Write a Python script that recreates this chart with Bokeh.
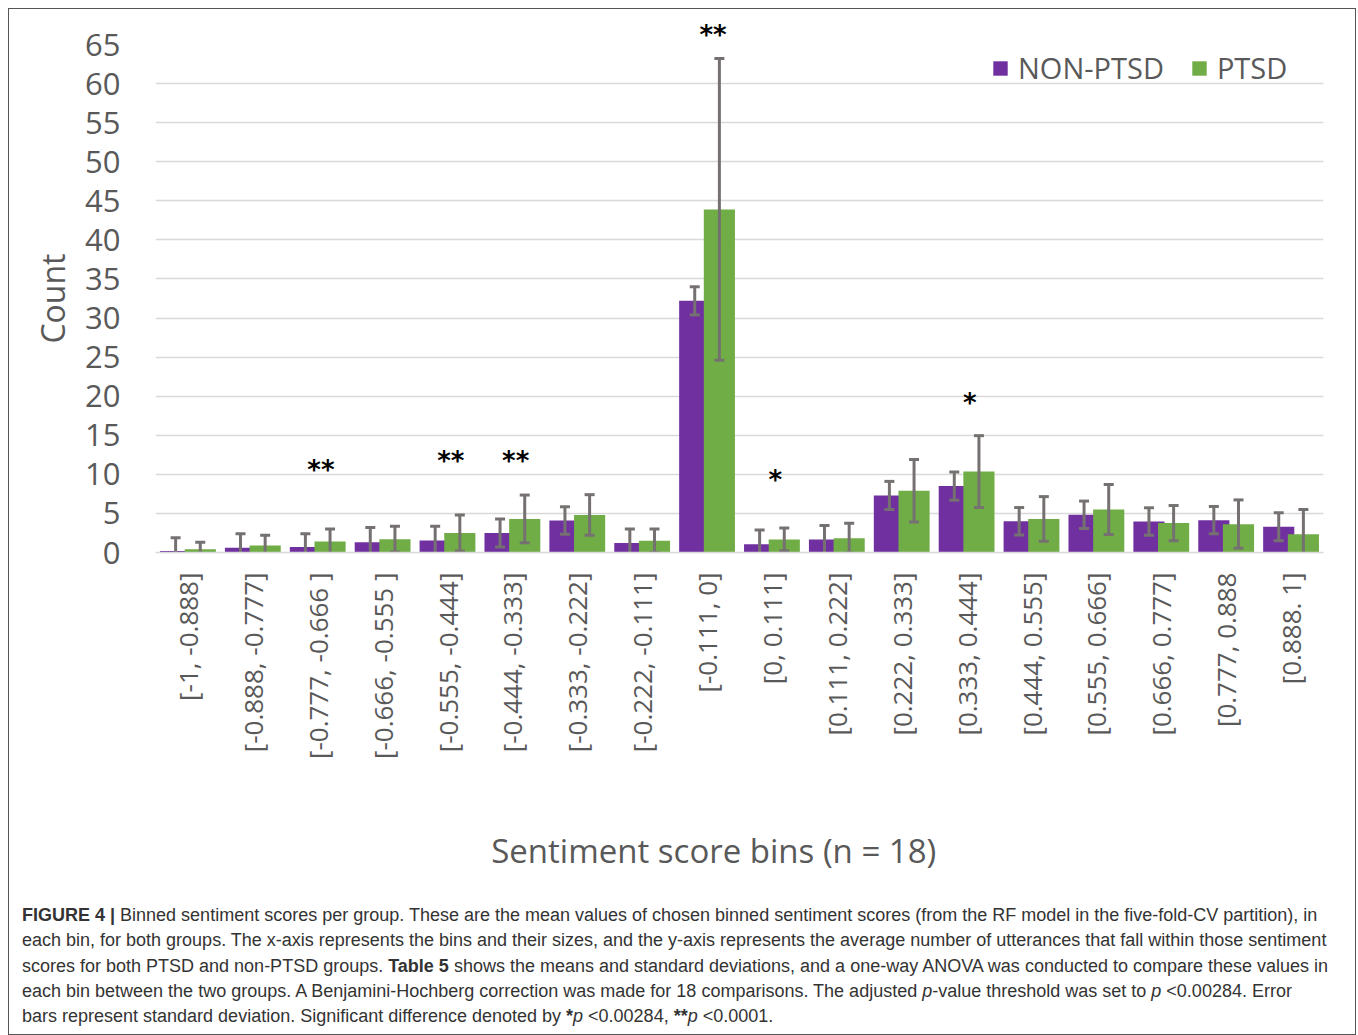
import math
from bokeh.plotting import figure
from bokeh.models import (ColumnDataSource, FactorRange, Range1d, FixedTicker,
                          Legend, LegendItem, Div)
from bokeh.core.properties import value
from bokeh.transform import dodge
from bokeh.layouts import column
from bokeh.embed import file_html
from bokeh.resources import INLINE

# ---------------- data ----------------
bins = ["[-1, -0.888]", "[-0.888, -0.777]", "[-0.777, -0.666 ]", "[-0.666, -0.555 ]",
        "[-0.555, -0.444]", "[-0.444, -0.333]", "[-0.333, -0.222]", "[-0.222, -0.111]",
        "[-0.111, 0]", "[0, 0.111]", "[0.111, 0.222]", "[0.222, 0.333]",
        "[0.333, 0.444]", "[0.444, 0.555]", "[0.555, 0.666]", "[0.666, 0.777]",
        "[0.777, 0.888", "[0.888. 1]"]
non_ptsd = [0.2, 0.6, 0.7, 1.3, 1.55, 2.5, 4.1, 1.2, 32.2, 1.07, 1.67, 7.3, 8.5, 4.0, 4.83, 3.97, 4.14, 3.3]
non_ptsd_sd = [1.7, 1.8, 1.7, 1.9, 1.8, 1.8, 1.75, 1.8, 1.8, 1.8, 1.8, 1.8, 1.8, 1.75, 1.75, 1.75, 1.75, 1.8]
ptsd = [0.4, 0.9, 1.4, 1.7, 2.5, 4.3, 4.8, 1.5, 43.9, 1.67, 1.83, 7.9, 10.35, 4.3, 5.5, 3.76, 3.63, 2.35]
ptsd_sd = [0.9, 1.3, 1.6, 1.65, 2.3, 3.05, 2.6, 1.5, 19.3, 1.45, 1.9, 4.0, 4.6, 2.85, 3.2, 2.25, 3.1, 3.15]

# significance markers inside the plot area
sig_bins = ["[-0.777, -0.666 ]", "[-0.555, -0.444]", "[-0.444, -0.333]", "[0, 0.111]", "[0.333, 0.444]"]
sig_marks = ["**", "**", "**", "*", "*"]
sig_y = [10.5, 11.65, 11.65, 9.3, 19.1]
# marker above the plot area (bin "[-0.111, 0]")
top_mark = "**"

y_ticks = list(range(0, 70, 5))

PURPLE = "#7030A0"
GREEN = "#70AD47"
ERR = "#767171"
TXT = "#595959"
FONT = "Open Sans"

src = ColumnDataSource(dict(
    bin=bins, np=non_ptsd, pt=ptsd,
    np_lo=[m - s for m, s in zip(non_ptsd, non_ptsd_sd)],
    np_hi=[m + s for m, s in zip(non_ptsd, non_ptsd_sd)],
    pt_lo=[m - s for m, s in zip(ptsd, ptsd_sd)],
    pt_hi=[m + s for m, s in zip(ptsd, ptsd_sd)],
))
sig_src = ColumnDataSource(dict(bin=sig_bins, mark=sig_marks, y=sig_y))

p = figure(x_range=FactorRange(*bins), y_range=Range1d(0, 65),
           width=1346, height=886, output_backend="svg", toolbar_location=None,
           min_border_left=146, min_border_right=32, min_border_top=35, min_border_bottom=343)
p.outline_line_color = None
p.background_fill_color = "white"
p.border_fill_color = "white"

# the "**" above the tallest bar, drawn as the plot's title
p.title.text = top_mark
p.title.align = "left"
p.title.offset = 544
p.title.standoff = -10
p.title.text_font = "DejaVu Sans"
p.title.text_font_style = "bold"
p.title.text_font_size = "26px"
p.title.text_color = "black"

OFF = 0.19
BW = 0.48
r_np = p.vbar(x=dodge("bin", -OFF, range=p.x_range), top="np", width=BW, source=src,
              fill_color=PURPLE, line_color=None)
r_pt = p.vbar(x=dodge("bin", OFF, range=p.x_range), top="pt", width=BW, source=src,
              fill_color=GREEN, line_color=None)

for off, lo, hi in [(-OFF, "np_lo", "np_hi"), (OFF, "pt_lo", "pt_hi")]:
    xs = dodge("bin", off, range=p.x_range)
    p.segment(x0=xs, y0=lo, x1=xs, y1=hi, source=src, line_color=ERR, line_width=3)
    for col in (lo, hi):
        p.rect(x=xs, y=col, width=10, height=3, width_units="screen", height_units="screen",
               source=src, fill_color=ERR, line_color=None)

p.text(x=dodge("bin", 0.05, range=p.x_range), y="y", text="mark", source=sig_src,
       text_align="center", text_baseline="middle", text_font_size="26px", text_color="black",
       text_font=value("DejaVu Sans"), text_font_style="bold")

legend = Legend(items=[LegendItem(label="NON-PTSD", renderers=[r_np]),
                       LegendItem(label="PTSD", renderers=[r_pt])],
                orientation="horizontal", location=(836, 465), padding=0, margin=0,
                glyph_width=18, glyph_height=18, label_standoff=9, spacing=26,
                label_text_font=FONT, label_text_font_size="29px", label_text_color=TXT,
                border_line_color=None, background_fill_alpha=0)
p.add_layout(legend, "center")

p.ygrid.ticker = FixedTicker(ticks=y_ticks)
p.yaxis.ticker = FixedTicker(ticks=y_ticks)
p.ygrid.grid_line_color = "#d9d9d9"
p.ygrid.grid_line_width = 1.5
p.xgrid.grid_line_color = None

p.yaxis.axis_line_color = None
p.yaxis.major_tick_line_color = None
p.yaxis.minor_tick_line_color = None
p.yaxis.major_tick_out = 0
p.yaxis.major_label_standoff = 35
p.yaxis.major_label_text_font = FONT
p.yaxis.major_label_text_font_size = "31px"
p.yaxis.major_label_text_color = TXT
p.yaxis.axis_label = "Count"
p.yaxis.axis_label_text_font = FONT
p.yaxis.axis_label_text_font_size = "32px"
p.yaxis.axis_label_text_font_style = "normal"
p.yaxis.axis_label_text_color = TXT
p.yaxis.axis_label_standoff = 8

p.xaxis.axis_line_color = "#d9d9d9"
p.xaxis.axis_line_width = 1.5
p.xaxis.major_tick_line_color = None
p.xaxis.minor_tick_line_color = None
p.xaxis.major_tick_out = 0
p.xaxis.major_label_orientation = math.pi / 2
p.xaxis.major_label_standoff = 20
p.xaxis.major_label_text_font = FONT
p.xaxis.major_label_text_font_size = "26px"
p.xaxis.major_label_text_color = TXT
# trailing no-break spaces nudge the centred title left, as in the original
p.xaxis.axis_label = "Sentiment score bins (n = 18)" + "\u00a0" * 6
p.xaxis.axis_label_text_font = FONT
p.xaxis.axis_label_text_font_size = "33px"
p.xaxis.axis_label_text_font_style = "normal"
p.xaxis.axis_label_text_color = TXT
p.xaxis.axis_label_standoff = 66

caption = Div(
    text=("<b>FIGURE 4 |</b> Binned sentiment scores per group. These are the mean values of chosen binned "
          "sentiment scores (from the RF model in the five-fold-CV partition), in<br>"
          "each bin, for both groups. The x-axis represents the bins and their sizes, and the y-axis represents "
          "the average number of utterances that fall within those sentiment<br>"
          "scores for both PTSD and non-PTSD groups. <b>Table 5</b> shows the means and standard deviations, "
          "and a one-way ANOVA was conducted to compare these values in<br>"
          "each bin between the two groups. A Benjamini-Hochberg correction was made for 18 comparisons. "
          "The adjusted <i>p</i>-value threshold was set to <i>p</i> &lt;0.00284. Error<br>"
          "bars represent standard deviation. Significant difference denoted by <b>*</b><i>p</i> &lt;0.00284, "
          "<b>**</b><i>p</i> &lt;0.0001."),
    width=1346, height=138,
    styles={"font-family": "'Liberation Sans', Arial, sans-serif", "font-size": "18px",
            "line-height": "25.3px", "color": "#333333", "white-space": "nowrap",
            "padding-left": "8px", "padding-top": "3px", "box-sizing": "border-box",
            "overflow": "hidden"},
)

layout = column(p, caption, width=1348, height=1027, margin=(8, 0, 0, 8),
                styles={"border": "1px solid #555555", "box-sizing": "border-box",
                        "background-color": "white"})

with open("out.html", "w") as f:
    f.write(file_html(layout, INLINE))
